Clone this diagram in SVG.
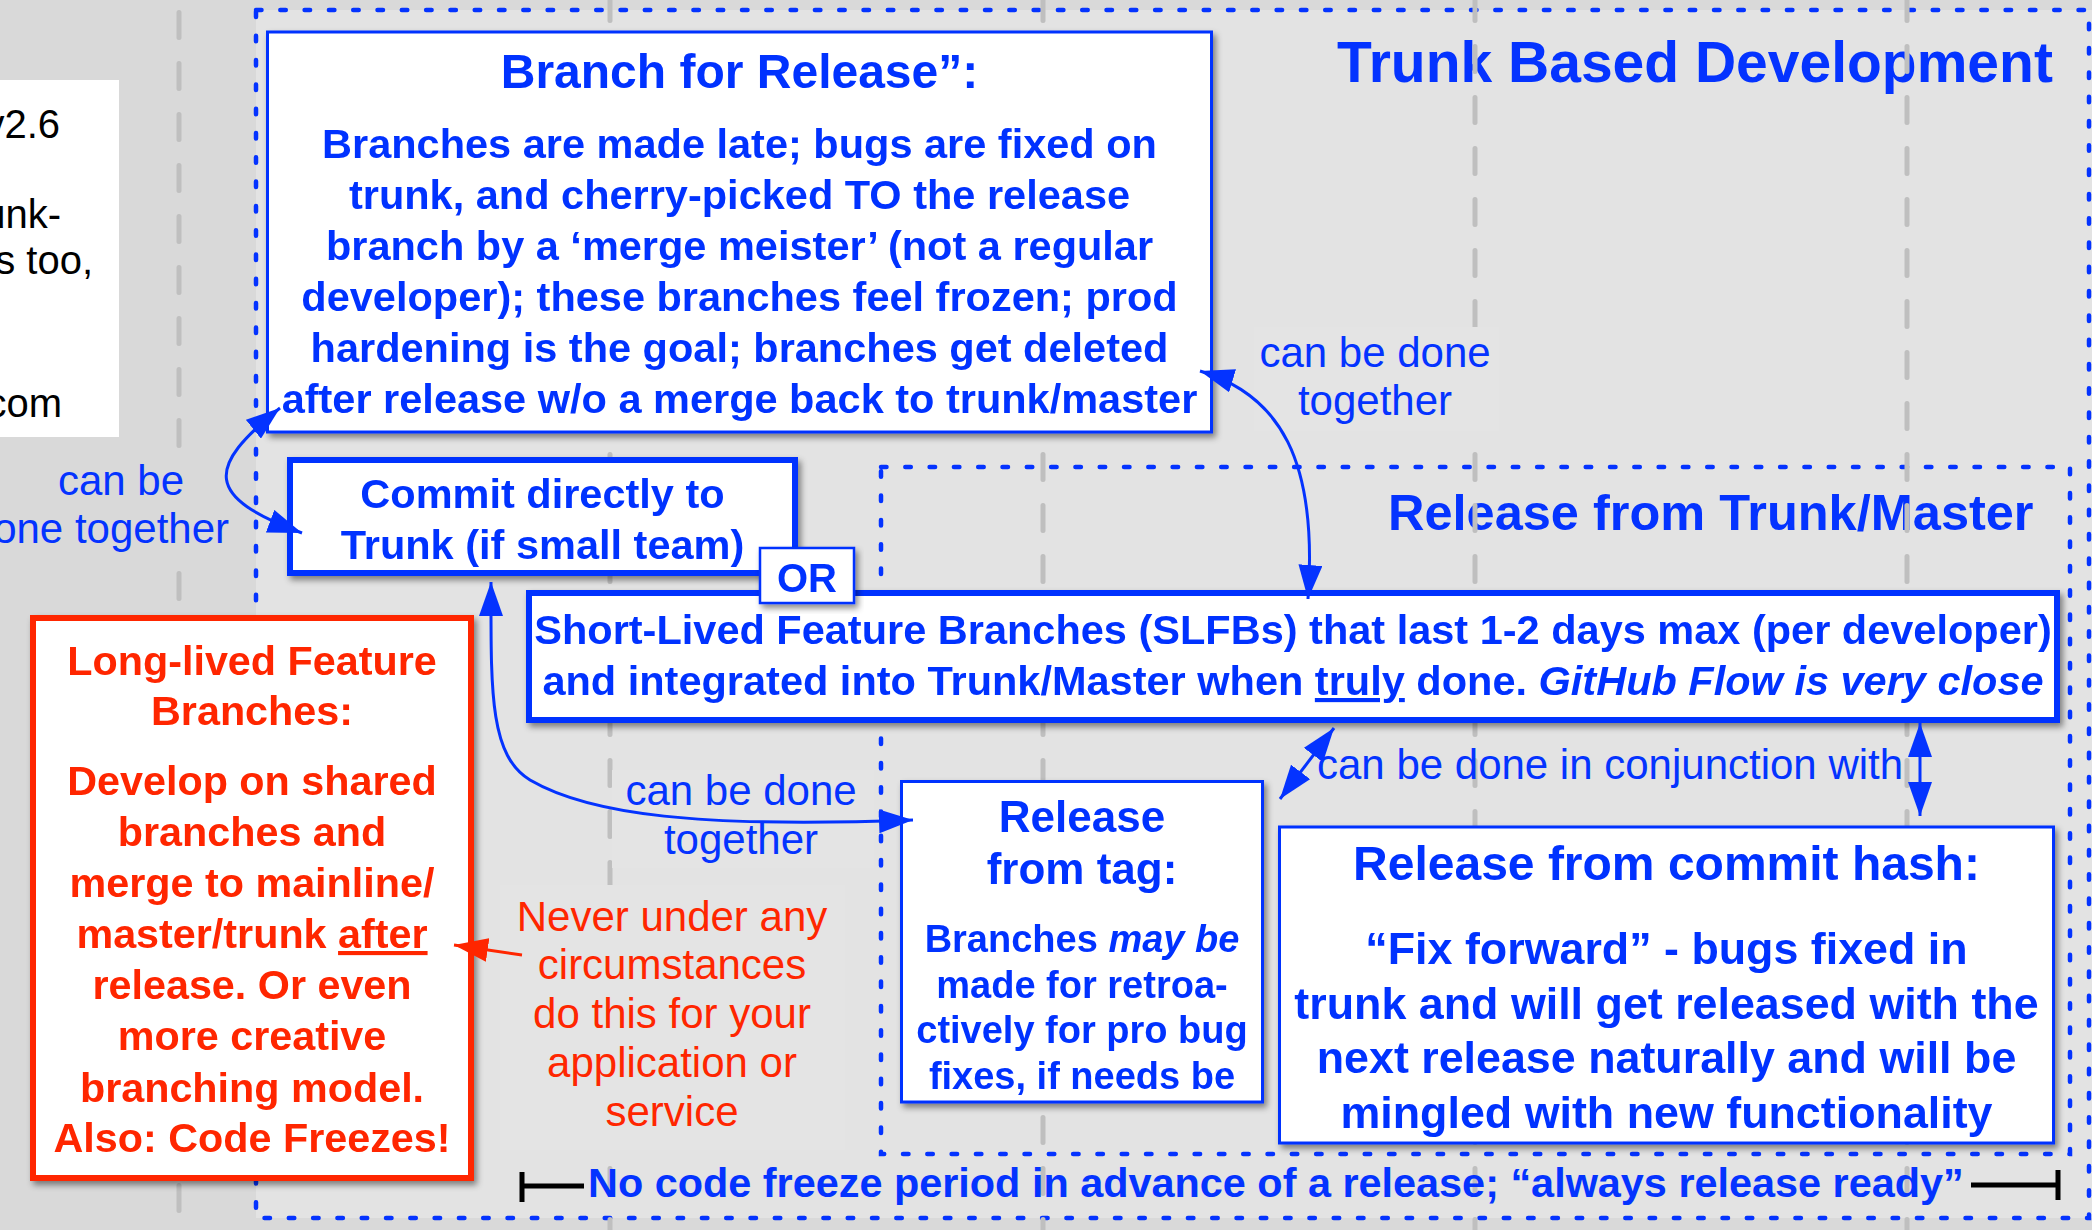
<svg xmlns="http://www.w3.org/2000/svg" width="2092" height="1230" viewBox="0 0 2092 1230">
<defs>
<style>
text{font-family:"Liberation Sans",Arial,Helvetica,sans-serif}
.b{font-weight:bold;fill:#0433ff;text-anchor:middle}
.r{font-weight:bold;fill:#ff2600;text-anchor:middle;font-size:41.3px}
.lbl{fill:#0433ff;text-anchor:middle;font-size:42px}
.rl{fill:#ff2600;text-anchor:middle;font-size:42px}
.blk{fill:#000;text-anchor:end;font-size:40px}
.box{fill:#fff;stroke:#0433ff;stroke-width:3}
.thick{stroke-width:6}
.dot{fill:none;stroke:#0433ff;stroke-width:4.5;stroke-linecap:round;stroke-dasharray:5.5 18.8}
.grid{stroke:#bfbfbf;stroke-width:5;stroke-linecap:round;stroke-dasharray:25 26}
.conn{fill:none;stroke:#0433ff;stroke-width:3;marker-start:url(#ah);marker-end:url(#ah)}
.lblbg{fill:#e4e4e4}
</style>
<filter id="sh" x="-5%" y="-5%" width="115%" height="125%">
<feDropShadow dx="3" dy="4" stdDeviation="3" flood-color="#000" flood-opacity="0.45"/>
</filter>
<marker id="ah" markerUnits="userSpaceOnUse" markerWidth="34" markerHeight="24" refX="34" refY="12" orient="auto-start-reverse" viewBox="0 0 34 24">
<path d="M0,0 L34,12 L0,24 z" fill="#0433ff"/>
</marker>
<marker id="ahr" markerUnits="userSpaceOnUse" markerWidth="34" markerHeight="24" refX="34" refY="12" orient="auto" viewBox="0 0 34 24">
<path d="M0,0 L34,12 L0,24 z" fill="#ff2600"/>
</marker>
</defs>

<!-- background -->
<rect x="0" y="0" width="2092" height="1230" fill="#d9d9d9"/>
<rect x="256" y="10" width="1836" height="1208" fill="#e3e3e3"/>

<!-- left white note (cut off) -->
<g id="note">
<rect x="0" y="80" width="119" height="357" fill="#fff"/>
<text class="blk" x="60" y="138">v2.6</text>
<text class="blk" x="61" y="228">unk-</text>
<text class="blk" x="93" y="274">s too,</text>
<text class="blk" x="62" y="417">com</text>
</g>

<!-- dotted frames -->
<g id="frames">
<rect class="dot" x="256" y="10" width="1833" height="1208"/>
<rect class="dot" x="881" y="467" width="1189" height="687"/>
<text class="b" style="text-anchor:start;font-size:57px" x="1337" y="82">Trunk Based Development</text>
<text class="b" style="text-anchor:start;font-size:50.5px" x="1388" y="530">Release from Trunk/Master</text>
</g>

<!-- grid dashed lines -->
<g id="grid">
<line class="grid" x1="179" y1="12.5" x2="179" y2="1240"/>
<line class="grid" x1="610" y1="-4.5" x2="610" y2="1240"/>
<line class="grid" x1="1043" y1="-4.5" x2="1043" y2="1240"/>
<line class="grid" x1="1475" y1="-4.5" x2="1475" y2="1240"/>
<line class="grid" x1="1907" y1="-4.5" x2="1907" y2="1240"/>
</g>

<!-- labels -->
<g id="labels">
<rect x="1254" y="327" width="245" height="104" class="lblbg"/>
<text class="lbl" x="1375" y="367">can be done</text>
<text class="lbl" x="1375" y="415">together</text>
<rect x="0" y="455" width="232" height="115" fill="#d9d9d9"/>
<text class="lbl" x="121" y="495">can be</text>
<text class="lbl" style="text-anchor:end" x="229" y="543">done together</text>
<rect x="612" y="770" width="262" height="98" class="lblbg"/>
<text class="lbl" x="741" y="805">can be done</text>
<text class="lbl" x="741" y="854">together</text>
<rect x="500" y="885" width="345" height="265" class="lblbg"/>
<text class="rl" x="672" y="931">Never under any</text>
<text class="rl" x="672" y="979">circumstances</text>
<text class="rl" x="672" y="1028">do this for your</text>
<text class="rl" x="672" y="1077">application or</text>
<text class="rl" x="672" y="1126">service</text>
<text class="lbl" style="text-anchor:start" x="1317" y="779">can be done in conjunction with</text>
</g>

<!-- nodes -->
<g id="branch-for-release" filter="url(#sh)">
<rect class="box" x="267.5" y="32" width="944" height="400"/>
<text class="b" style="font-size:48px" x="739.5" y="88">Branch for Release”:</text>
<g style="font-size:41.5px">
<text class="b" x="739.5" y="158">Branches are made late; bugs are fixed on</text>
<text class="b" x="739.5" y="209">trunk, and cherry-picked TO the release</text>
<text class="b" x="739.5" y="260">branch by a ‘merge meister’ (not a regular</text>
<text class="b" x="739.5" y="311">developer); these branches feel frozen; prod</text>
<text class="b" x="739.5" y="362">hardening is the goal; branches get deleted</text>
<text class="b" x="739.5" y="413">after release w/o a merge back to trunk/master</text>
</g>
</g>

<g id="commit-directly" filter="url(#sh)">
<rect class="box thick" x="290" y="460" width="505" height="113"/>
<text class="b" style="font-size:41.5px" x="542.5" y="508">Commit directly to</text>
<text class="b" style="font-size:41.5px" x="542.5" y="559">Trunk (if small team)</text>
</g>

<g id="slfb" filter="url(#sh)">
<rect class="box thick" x="529" y="593" width="1528" height="127"/>
<text class="b" style="font-size:41.5px" x="1293" y="644">Short-Lived Feature Branches (SLFBs) that last 1-2 days max (per developer)</text>
<text class="b" style="font-size:41.5px" x="1293" y="695">and integrated into Trunk/Master when <tspan text-decoration="underline">truly</tspan> done. <tspan font-style="italic">GitHub Flow is very close</tspan></text>
</g>

<g id="or" filter="url(#sh)">
<rect class="box" style="stroke-width:2.5" x="760" y="548" width="94" height="55"/>
<text class="b" style="font-size:40px" x="807" y="592">OR</text>
</g>

<g id="long-lived" filter="url(#sh)">
<rect x="33" y="618" width="438" height="560" fill="#fff" stroke="#ff2600" stroke-width="6"/>
<text class="r" x="252" y="675">Long-lived Feature</text>
<text class="r" x="252" y="725">Branches:</text>
<text class="r" x="252" y="795">Develop on shared</text>
<text class="r" x="252" y="846">branches and</text>
<text class="r" x="252" y="897">merge to mainline/</text>
<text class="r" x="252" y="948">master/trunk <tspan text-decoration="underline">after</tspan></text>
<text class="r" x="252" y="999">release. Or even</text>
<text class="r" x="252" y="1050">more creative</text>
<text class="r" x="252" y="1102">branching model.</text>
<text class="r" x="252" y="1152">Also: Code Freezes!</text>
</g>

<g id="release-from-tag" filter="url(#sh)">
<rect class="box" x="901.5" y="781.5" width="361" height="320.5"/>
<text class="b" style="font-size:44px" x="1082" y="832">Release</text>
<text class="b" style="font-size:44px" x="1082" y="884">from tag:</text>
<g style="font-size:38px">
<text class="b" x="1082" y="952">Branches <tspan font-style="italic">may be</tspan></text>
<text class="b" x="1082" y="998">made for retroa-</text>
<text class="b" x="1082" y="1043">ctively for pro bug</text>
<text class="b" x="1082" y="1089">fixes, if needs be</text>
</g>
</g>

<g id="release-from-hash" filter="url(#sh)">
<rect class="box" x="1279.5" y="827" width="774" height="316"/>
<text class="b" style="font-size:48px" x="1666.5" y="880">Release from commit hash:</text>
<g style="font-size:44.8px">
<text class="b" x="1666.5" y="964">“Fix forward” - bugs fixed in</text>
<text class="b" x="1666.5" y="1019">trunk and will get released with the</text>
<text class="b" x="1666.5" y="1073">next release naturally and will be</text>
<text class="b" x="1666.5" y="1128">mingled with new functionality</text>
</g>
</g>

<g id="no-code-freeze">
<path d="M522,1172 V1202 M522,1186 H584 M1971,1185 H2058 M2058,1170 V1200" stroke="#000" stroke-width="5" fill="none"/>
<text class="b" style="text-anchor:start;font-size:41.4px" x="588" y="1197">No code freeze period in advance of a release; “always release ready”</text>
</g>

<!-- connectors -->
<g id="connectors">
<path class="conn" d="M280,408 C205,468 205,497 302,533"/>
<path class="conn" d="M1200,371 C1280,395 1318,460 1308,599"/>
<path class="conn" d="M491,582 C491,690 489,755 530,780 C590,815 700,828 913,820"/>
<path class="conn" d="M1334,728 L1280,799"/>
<path class="conn" d="M1920,723 L1920,816"/>
<path d="M522,955 L454,945" fill="none" stroke="#ff2600" stroke-width="3" marker-end="url(#ahr)"/>
</g>
</svg>
